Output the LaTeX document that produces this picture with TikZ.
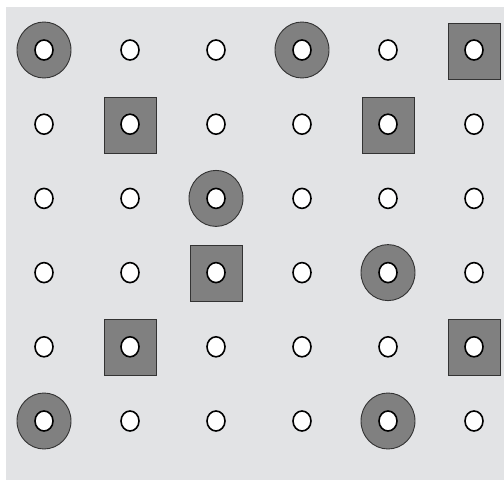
\documentclass[tikz,border=0pt]{standalone}
\usepackage{xcolor}
\usepackage{tikz}
\usetikzlibrary{shapes.geometric}

\definecolor{bgGray}{HTML}{E2E3E5}
\definecolor{markGray}{HTML}{808080}

\begin{document}
\begin{tikzpicture}[x=1pt, y=-1pt,
  dot/.style={draw=black, line width=1.6pt, fill=white, ellipse, inner sep=0pt, minimum width=18pt, minimum height=20pt},
  ring/.style={draw=black!80, line width=0.9pt, fill=markGray, ellipse, inner sep=0pt, minimum width=54pt, minimum height=56pt},
  sqbox/.style={draw=black!80, line width=0.9pt, fill=markGray, rectangle, inner sep=0pt, minimum width=52pt, minimum height=56pt}
]
\useasboundingbox (0,0) rectangle (504,480);
\fill[bgGray] (6,7) rectangle (504,480);
% marked positions
\foreach \r/\c in {0/0, 0/3, 2/2, 3/4, 5/0, 5/4}
  \node[ring] (ring-\r-\c) at ({44+86*\c},{50+74.2*\r}) {};
\foreach \r/\c in {0/5, 1/1, 1/4, 3/2, 4/1, 4/5}
  \node[sqbox] (sq-\r-\c) at ({44+86*\c},{51+74.2*\r}) {};
% grid of holes
\foreach \r in {0,...,5}
  \foreach \c in {0,...,5}
    \node[dot] (d-\r-\c) at ({44+86*\c},{50+74.2*\r}) {};
\end{tikzpicture}
\end{document}
